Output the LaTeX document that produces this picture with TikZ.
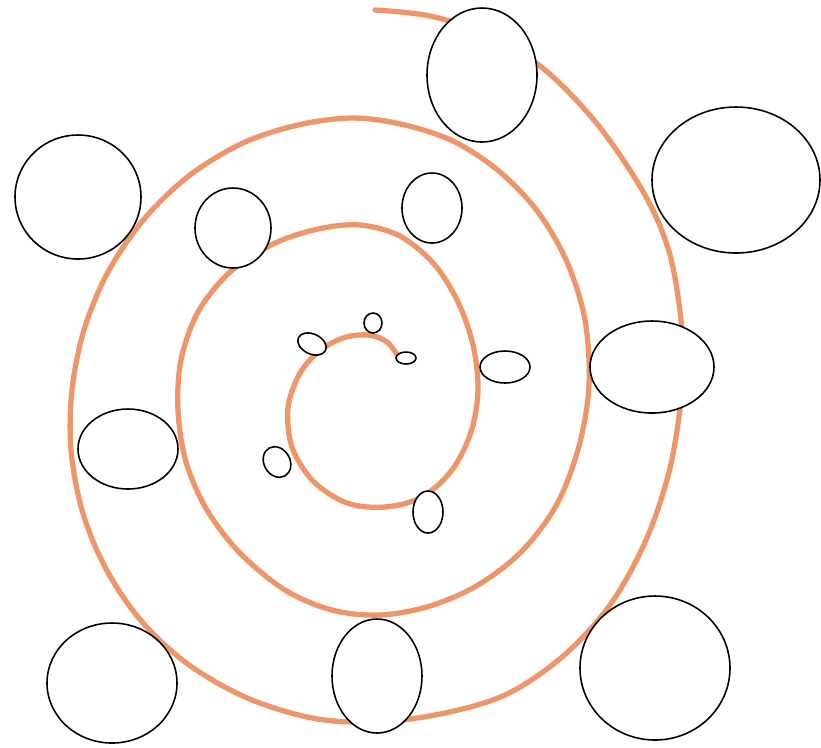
\documentclass[tikz,border=0pt]{standalone}
\usepackage{tikz}
\usetikzlibrary{calc}
\definecolor{coilorange}{RGB}{236,150,106}

\begin{document}
\begin{tikzpicture}[
x=0.01cm, y=-0.01cm,
coil/.style={draw=coilorange, line width=1.5pt, line cap=round},
bubble/.style={draw=black, fill=white, line width=0.45pt}
]

\useasboundingbox (0,0) rectangle (821,747);

% the spiral, from the inner end outwards
\draw[coil] plot[smooth, tension=0.55] coordinates {
(399,358) (387,342) (368,335) (343,338) (318,352) (299,375) (288,408)
(292,447) (313,481) (347,503) (385,507) (422,497) (452,470) (471,432)
(478,390) (473,345) (458,302) (434,264) (400,236) (360,225) (318,229)
(273,244) (230,272) (198,312) (181,360) (178,410) (186,462) (207,510)
(240,553) (285,590) (332,610) (380,615) (430,606) (478,585) (522,551)
(557,504) (579,446) (589,385) (585,320) (567,262) (538,212) (500,172)
(455,142) (405,125) (353,118) (298,125) (243,143) (190,175) (145,218)
(108,272) (84,330) (72,390) (71,450) (82,510) (104,565) (138,617)
(185,662) (245,697) (312,718) (375,722) (440,714) (505,695) (562,657)
(610,605) (646,540) (670,468) (682,390) (682,330) (670,255) (645,195)
(598,125) (545,70) (490,35) (430,16) (375,10)};

% outer ring of bubbles
\draw[bubble] (482,75) ellipse [x radius=55, y radius=67];
\draw[bubble] (736,180) ellipse [x radius=84, y radius=73];
\draw[bubble] (78,197) ellipse [x radius=63, y radius=62];
\draw[bubble] (652,367) ellipse [x radius=62, y radius=46];
\draw[bubble] (128,449) ellipse [x radius=50, y radius=40];
\draw[bubble] (112,683) ellipse [x radius=65, y radius=60];
\draw[bubble] (377,676) ellipse [x radius=45, y radius=57];
\draw[bubble] (655,668) ellipse [x radius=75, y radius=72];

% middle ring
\draw[bubble] (233,228) ellipse [x radius=38, y radius=40];
\draw[bubble] (432,208) ellipse [x radius=30, y radius=35];

% small ones near the centre
\draw[bubble] (505,367) ellipse [x radius=25, y radius=16];
\draw[bubble, rotate around={-25:(312,344)}] (312,344) ellipse [x radius=15, y radius=10];
\draw[bubble] (373,323) ellipse [x radius=9, y radius=10];
\draw[bubble] (406,358) ellipse [x radius=10, y radius=6];
\draw[bubble, rotate around={30:(277,462)}] (277,462) ellipse [x radius=13, y radius=16];
\draw[bubble] (428,512) ellipse [x radius=15, y radius=21];

\end{tikzpicture}
\end{document}
